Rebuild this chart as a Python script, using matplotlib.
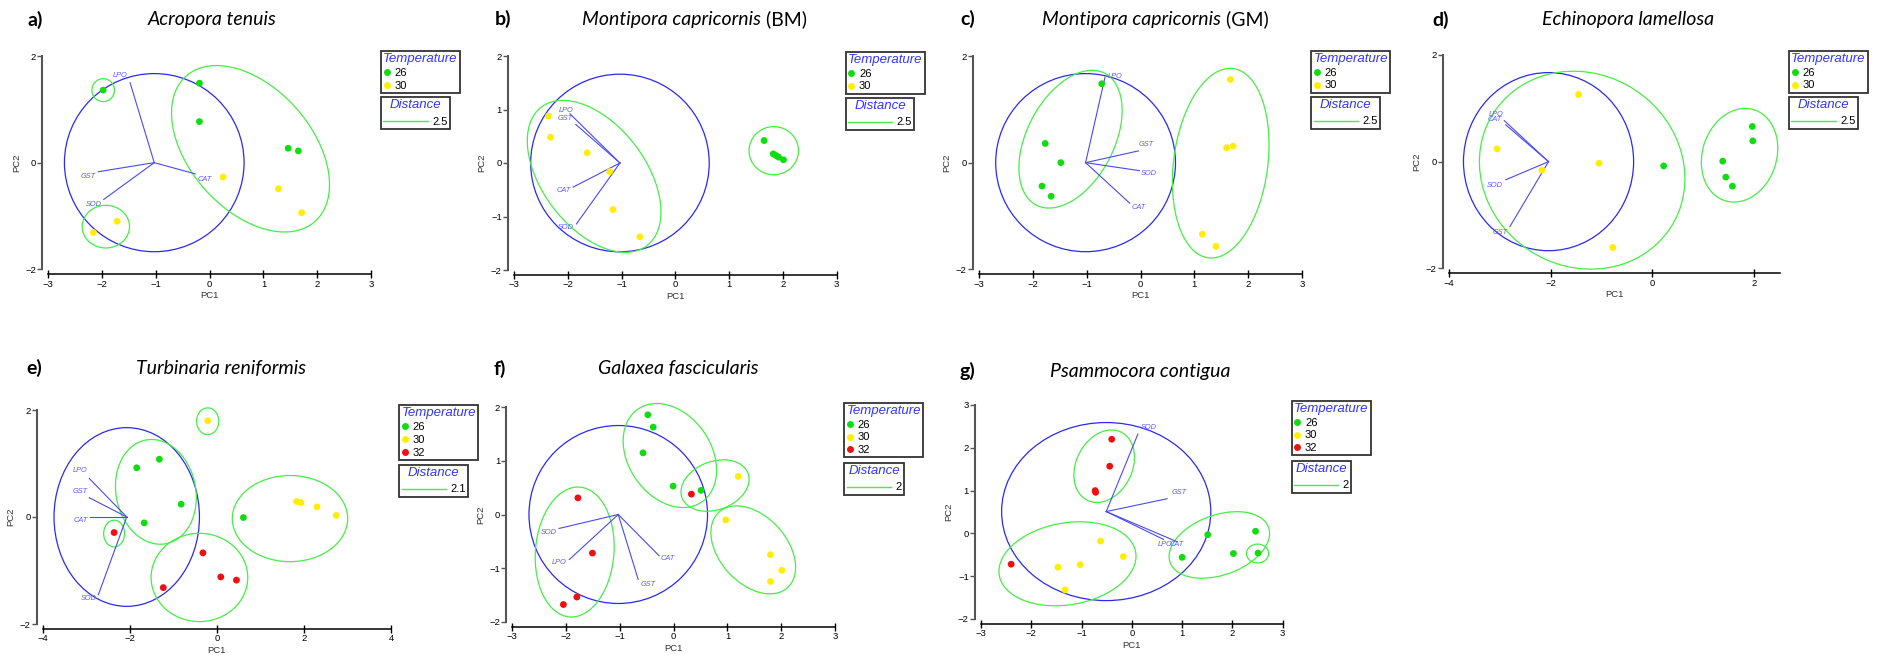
import matplotlib
matplotlib.use('Agg')
import matplotlib.pyplot as plt
from matplotlib.patches import Ellipse
from matplotlib.lines import Line2D

W, H = 1878, 661

# ---------------- data ----------------
# a) Acropora tenuis
A_26 = [(-1.98, 1.36), (-0.19, 1.49), (-0.19, 0.77), (1.46, 0.27), (1.65, 0.22)]
A_30 = [(0.25, -0.27), (1.28, -0.49), (1.71, -0.94), (-1.72, -1.10), (-2.16, -1.31)]
A_CIRCLE = (-1.03, 0.0, 1.67)
A_VEC = {'LPO': (-1.48, 1.50), 'GST': (-2.07, -0.17), 'SOD': (-1.97, -0.69), 'CAT': (-0.27, -0.21)}
A_ELL = [(-1.98, 1.36, 0.42, 0.43, 0), (-1.93, -1.20, 0.88, 0.80, 0), (0.76, 0.26, 3.63, 2.28, -49)]

# b) Montipora capricornis (BM)
B_26 = [(1.65, 0.42), (1.82, 0.17), (1.87, 0.14), (1.92, 0.11), (2.01, 0.06)]
B_30 = [(-2.36, 0.88), (-2.32, 0.48), (-1.64, 0.19), (-1.22, -0.16), (-1.16, -0.87), (-0.66, -1.38)]
B_CIRCLE = (-1.03, 0.0, 1.66)
B_VEC = {'LPO': (-1.96, 0.92), 'GST': (-1.85, 0.72), 'CAT': (-1.90, -0.45), 'SOD': (-1.84, -1.14)}
B_ELL = [(1.83, 0.23, 0.92, 0.90, 0), (-1.51, -0.25, 3.25, 1.92, -53)]

# c) Montipora capricornis (GM)
C_26 = [(-0.72, 1.48), (-1.77, 0.36), (-1.48, 0.0), (-1.83, -0.44), (-1.66, -0.63)]
C_30 = [(1.67, 1.56), (1.60, 0.28), (1.72, 0.31), (1.15, -1.34), (1.40, -1.57)]
C_CIRCLE = (-1.02, 0.0, 1.67)
C_VEC = {'LPO': (-0.66, 1.60), 'GST': (-0.04, 0.22), 'SOD': (-0.02, -0.15), 'CAT': (-0.20, -0.76)}
C_ELL = [(-1.30, 0.44, 2.78, 1.62, 63), (1.49, -0.01, 3.58, 1.75, 82.6)]

# d) Echinopora lamellosa
D_26 = [(1.96, 0.66), (1.97, 0.39), (1.38, 0.01), (1.44, -0.29), (1.57, -0.46), (0.22, -0.08)]
D_30 = [(-1.45, 1.26), (-3.05, 0.24), (-1.05, -0.03), (-2.17, -0.16), (-0.78, -1.61)]
D_CIRCLE = (-2.04, 0.0, 1.67)
D_VEC = {'LPO': (-2.91, 0.77), 'CAT': (-2.88, 0.69), 'SOD': (-2.88, -0.34), 'GST': (-2.80, -1.22)}
D_ELL = [(-1.38, -0.16, 4.10, 3.64, -22.7), (1.71, 0.12, 1.80, 1.45, 68.5)]

# e) Turbinaria reniformis
E_26 = [(-1.84, 0.92), (-1.32, 1.08), (-0.82, 0.24), (-1.67, -0.11), (0.61, -0.01)]
E_30 = [(-0.21, 1.80), (1.83, 0.29), (1.93, 0.27), (2.30, 0.19), (2.74, 0.03)]
E_32 = [(-2.36, -0.29), (-0.32, -0.67), (0.09, -1.12), (0.45, -1.18), (-1.23, -1.32)]
E_CIRCLE = (-2.07, 0.0, 1.67)
E_VEC = {'LPO': (-2.93, 0.72), 'GST': (-2.93, 0.36), 'CAT': (-2.91, 0.0), 'SOD': (-2.72, -1.45)}
E_ELL = [(-0.21, 1.79, 0.51, 0.50, 0), (-2.36, -0.31, 0.48, 0.50, 0), (-1.40, 0.47, 2.02, 1.79, -58),
         (-0.40, -1.13, 2.22, 1.65, 0), (1.68, -0.03, 2.65, 1.61, 0)]

# f) Galaxea fascicularis
F_26 = [(-0.48, 1.86), (-0.38, 1.63), (-0.57, 1.15), (-0.01, 0.53), (0.51, 0.45)]
F_30 = [(1.20, 0.71), (0.97, -0.10), (1.80, -0.75), (2.01, -1.04), (1.80, -1.25)]
F_32 = [(-1.78, 0.31), (0.33, 0.38), (-1.51, -0.72), (-1.80, -1.54), (-2.05, -1.68)]
F_CIRCLE = (-1.03, 0.0, 1.66)
F_VEC = {'SOD': (-2.13, -0.26), 'LPO': (-1.94, -0.84), 'GST': (-0.66, -1.21), 'CAT': (-0.27, -0.77)}
F_ELL = [(-0.07, 1.10, 2.10, 1.54, -55.7), (0.77, 0.54, 1.31, 0.90, 20.5),
         (1.48, -0.66, 1.90, 1.25, -48), (-1.84, -0.70, 2.43, 1.46, 85.5)]

# g) Psammocora contigua
G_26 = [(1.51, -0.03), (2.46, 0.05), (2.02, -0.47), (2.51, -0.46), (1.00, -0.56)]
G_30 = [(-0.62, -0.18), (-0.17, -0.54), (-1.03, -0.73), (-1.47, -0.79), (-1.33, -1.32)]
G_32 = [(-0.40, 2.20), (-0.44, 1.57), (-0.73, 1.00), (-0.72, 0.96), (-2.40, -0.72)]
G_CIRCLE = (-0.51, 0.51, 2.08)
G_VEC = {'SOD': (0.12, 2.32), 'GST': (0.70, 0.81), 'LPO': (0.63, -0.14), 'CAT': (0.89, -0.19)}
G_ELL = [(-0.55, 1.57, 1.74, 1.14, 72.6), (-1.28, -0.71, 2.77, 1.90, 14.1),
         (1.74, -0.27, 2.13, 1.37, 26.9), (2.50, -0.47, 0.44, 0.44, 0)]

# ---------------- layout ----------------
# vector label anchors (data coords)
A_LBL = {'LPO': (-1.67, 1.63), 'GST': (-2.26, -0.26), 'SOD': (-2.16, -0.78), 'CAT': (-0.09, -0.31)}
B_LBL = {'LPO': (-2.03, 0.98), 'GST': (-2.05, 0.83), 'CAT': (-2.08, -0.52), 'SOD': (-2.03, -1.21)}
C_LBL = {'LPO': (-0.47, 1.61), 'GST': (0.11, 0.34), 'SOD': (0.15, -0.21), 'CAT': (-0.04, -0.84)}
D_LBL = {'LPO': (-3.06, 0.89), 'CAT': (-3.09, 0.79), 'SOD': (-3.09, -0.44), 'GST': (-2.99, -1.33)}
E_LBL = {'LPO': (-3.14, 0.86), 'GST': (-3.13, 0.47), 'CAT': (-3.13, -0.07), 'SOD': (-2.93, -1.52)}
F_LBL = {'SOD': (-2.33, -0.33), 'LPO': (-2.13, -0.90), 'GST': (-0.47, -1.30), 'CAT': (-0.11, -0.82)}
G_LBL = {'SOD': (0.34, 2.48), 'GST': (0.95, 0.96), 'LPO': (0.66, -0.27), 'CAT': (0.89, -0.27)}

GREEN, YELLOW, RED = '#10dd10', '#ffee00', '#ee1010'
ELLC, CIRC, VECC, VTXT = '#44ee44', '#2a2aee', '#4a4aee', '#5a5aff'

PANELS = [
    dict(tag='a)', name='Acropora tenuis', extra='', tag_xy=(27, 20), title_x=212,
         groups=[('26', A_26, GREEN), ('30', A_30, YELLOW)], circle=A_CIRCLE, vec=A_VEC, lbl=A_LBL,
         ell=A_ELL, dist='2.5', xlim=(-3, 3), ylim=(-2, 2), xt=range(-3, 4), yt=[-2, 0, 2],
         box=(48.3, 371, 56, 269.3), leg=(381, 51, 97)),
    dict(tag='b)', name='Montipora capricornis', extra='(BM)', tag_xy=(495, 19), title_x=581.7,
         groups=[('26', B_26, GREEN), ('30', B_30, YELLOW)], circle=B_CIRCLE, vec=B_VEC, lbl=B_LBL,
         ell=B_ELL, dist='2.5', xlim=(-3, 3), ylim=(-2, 2), xt=range(-3, 4), yt=range(-2, 3),
         box=(514, 836.7, 56, 270), leg=(845.7, 51.7, 97.7)),
    dict(tag='c)', name='Montipora capricornis', extra='(GM)', tag_xy=(960.7, 19), title_x=1041.7,
         groups=[('26', C_26, GREEN), ('30', C_30, YELLOW)], circle=C_CIRCLE, vec=C_VEC, lbl=C_LBL,
         ell=C_ELL, dist='2.5', xlim=(-3, 3), ylim=(-2, 2), xt=range(-3, 4), yt=[-2, 0, 2],
         box=(979, 1302, 56, 269.3), leg=(1311.3, 50.7, 96.7)),
    dict(tag='d)', name='Echinopora lamellosa', extra='', tag_xy=(1432, 20), title_x=1628,
         groups=[('26', D_26, GREEN), ('30', D_30, YELLOW)], circle=D_CIRCLE, vec=D_VEC, lbl=D_LBL,
         ell=D_ELL, dist='2.5', xlim=(-4, 2.5), ylim=(-2, 2), xt=[-4, -2, 0, 2], yt=[-2, 0, 2],
         box=(1448.7, 1779.8, 55, 268.3), leg=(1789, 50.7, 96.7)),
    dict(tag='e)', name='Turbinaria reniformis', extra='', tag_xy=(26.7, 368), title_x=221,
         groups=[('26', E_26, GREEN), ('30', E_30, YELLOW), ('32', E_32, RED)], circle=E_CIRCLE,
         vec=E_VEC, lbl=E_LBL, ell=E_ELL, dist='2.1', xlim=(-4, 4), ylim=(-2, 2),
         xt=[-4, -2, 0, 2, 4], yt=[-2, 0, 2], box=(42.7, 391, 410, 624), leg=(399.3, 405, 464.7)),
    dict(tag='f)', name='Galaxea fascicularis', extra='', tag_xy=(493.3, 369), title_x=678,
         groups=[('26', F_26, GREEN), ('30', F_30, YELLOW), ('32', F_32, RED)], circle=F_CIRCLE,
         vec=F_VEC, lbl=F_LBL, ell=F_ELL, dist='2', xlim=(-3, 3), ylim=(-2, 2),
         xt=range(-3, 4), yt=range(-2, 3), box=(512.3, 835, 407.3, 621.7), leg=(844.3, 402.7, 462.7)),
    dict(tag='g)', name='Psammocora contigua', extra='', tag_xy=(959.3, 371), title_x=1140.5,
         groups=[('26', G_26, GREEN), ('30', G_30, YELLOW), ('32', G_32, RED)], circle=G_CIRCLE,
         vec=G_VEC, lbl=G_LBL, ell=G_ELL, dist='2', xlim=(-3, 3), ylim=(-2, 3),
         xt=range(-3, 4), yt=range(-2, 4), box=(981, 1282.7, 405, 619), leg=(1291.7, 400.7, 460.7)),
]

plt.rcParams['font.family'] = ['Liberation Sans', 'DejaVu Sans']
fig = plt.figure(figsize=(W / 100, H / 100), dpi=100)


def fx(px):
    return px / W


def fy(py):
    return 1 - py / H


for p in PANELS:
    x0, x1, yt0, yb0 = p['box']
    ax = fig.add_axes([fx(x0), fy(yb0), (x1 - x0) / W, (yb0 - yt0) / H])
    ax.set_xlim(*p['xlim'])
    ax.set_ylim(*p['ylim'])
    ax.set_facecolor('none')
    for s in ('top', 'right'):
        ax.spines[s].set_visible(False)
    ax.spines['left'].set_position(('outward', 4.3))
    ax.spines['bottom'].set_position(('outward', 3.5))
    ax.spines['left'].set_color('#555555')
    ax.spines['left'].set_linewidth(1.5)
    ax.spines['bottom'].set_linewidth(1.1)
    ax.set_xticks(list(p['xt']))
    ax.set_yticks(list(p['yt']))
    ax.tick_params(axis='x', direction='inout', length=6, width=1, labelsize=6.8, pad=1)
    ax.tick_params(axis='y', direction='out', length=3.5, width=1, labelsize=6.8, pad=1,
                   color='#555555')
    ax.set_xlabel('PC1', fontsize=6.8, labelpad=2, color='#333333')
    ax.set_ylabel('PC2', fontsize=6.8, labelpad=3, color='#333333')

    # correlation circle and variable vectors
    cx, cy, r = p['circle']
    ax.add_patch(Ellipse((cx, cy), 2 * r, 2 * r, fill=False, ec=CIRC, lw=0.9, clip_on=False))
    for k, (ex, ey) in p['vec'].items():
        ax.plot([cx, ex], [cy, ey], color=VECC, lw=0.8, clip_on=False)
        lx, ly = p['lbl'][k]
        ax.text(lx, ly, k, fontsize=5.3, style='italic', color=VTXT, ha='center', va='center')

    # cluster ellipses
    for (ex, ey, w, h, ang) in p['ell']:
        ax.add_patch(Ellipse((ex, ey), w, h, angle=ang, fill=False, ec=ELLC, lw=0.9, clip_on=False))

    # points
    for lab, pts, col in p['groups']:
        ax.scatter([q[0] for q in pts], [q[1] for q in pts], s=24, color=col, edgecolors='none',
                   zorder=3, clip_on=False)

    # legends
    lx, ly1, ly2 = p['leg']
    h1 = [Line2D([], [], ls='none', marker='o', ms=5, mfc=col, mec='none') for _, _, col in p['groups']]
    leg1 = ax.legend(h1, [g[0] for g in p['groups']], title='Temperature', loc='upper left',
                     bbox_to_anchor=(fx(lx), fy(ly1)), bbox_transform=fig.transFigure,
                     fontsize=8, fancybox=False, edgecolor='#333333', framealpha=1,
                     borderpad=0.2, labelspacing=0.25, handlelength=0.6, handletextpad=0.4,
                     borderaxespad=0, alignment='left')
    leg1.get_title().set_color('#3333ff')
    leg1.get_title().set_style('italic')
    leg1.get_title().set_fontsize(9.5)
    leg1.get_frame().set_linewidth(1.3)
    ax.add_artist(leg1)
    h2 = [Line2D([], [], color=ELLC, lw=1)]
    leg2 = ax.legend(h2, [p['dist']], title='Distance', loc='upper left',
                     bbox_to_anchor=(fx(lx), fy(ly2)), bbox_transform=fig.transFigure,
                     fontsize=8, fancybox=False, edgecolor='#333333', framealpha=1,
                     borderpad=0.2, handlelength=4.0, handletextpad=0.4, borderaxespad=0)
    leg2.get_title().set_color('#3333ff')
    leg2.get_title().set_style('italic')
    leg2.get_title().set_fontsize(9.5)
    leg2.get_frame().set_linewidth(1.3)

    # titles
    tx, ty = p['tag_xy']
    fig.text(fx(tx), fy(ty), p['tag'], fontsize=14, fontweight='bold', family='Lato',
             ha='left', va='center')
    if p['extra']:
        t = fig.text(fx(p['title_x']), fy(ty), p['name'], fontsize=14, style='italic',
                     family='Lato', ha='left', va='center')
        ax.annotate(' ' + p['extra'], xy=(1, 0.5), xycoords=t, fontsize=14, family='Lato',
                    ha='left', va='center', annotation_clip=False)
    else:
        fig.text(fx(p['title_x']), fy(ty), p['name'], fontsize=14, style='italic',
                 family='Lato', ha='center', va='center')

fig.savefig('out.png', dpi=100)
